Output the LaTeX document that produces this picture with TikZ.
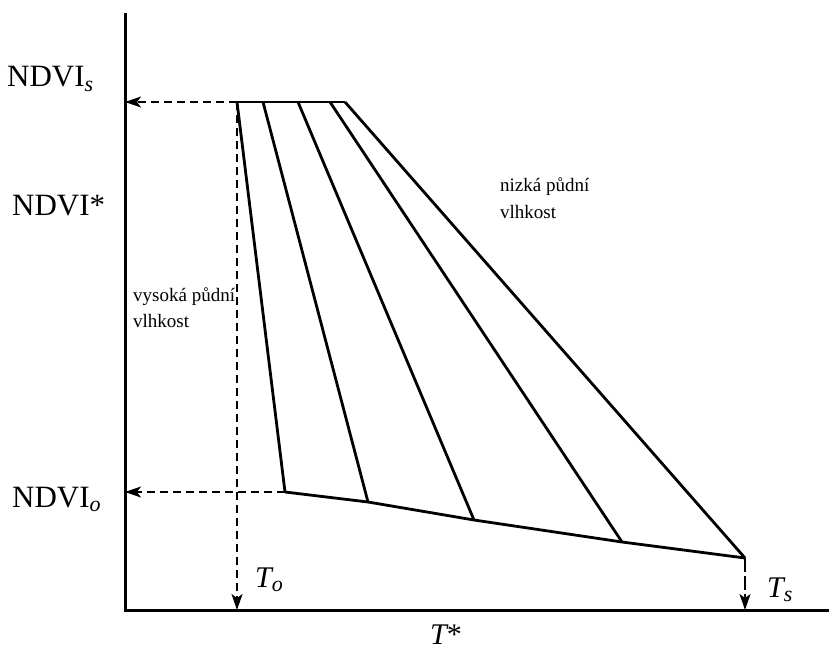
\documentclass[tikz,border=0pt]{standalone}
\usepackage{fontspec}
\setmainfont{Liberation Serif}
\usetikzlibrary{arrows.meta}

\newcommand{\lowidx}[1]{\raisebox{-0.32ex}{\fontsize{22}{24}\selectfont\itshape #1}}

\tikzset{
  axis/.style={line width=3pt, line cap=rect},
  edge/.style={line width=2.8pt, line join=miter},
  proj/.style={dashed, dash pattern=on 8pt off 5pt, line width=1.6pt, -{Stealth[length=16pt, width=11pt, inset=4pt]}},
  biglabel/.style={inner sep=0pt, font=\fontsize{31}{33}\selectfont},
  tlabel/.style={inner sep=0pt, font=\fontsize{30}{32}\selectfont\itshape},
  note/.style={inner sep=0pt, align=left, font=\fontsize{19}{26}\selectfont}
}

\begin{document}
\begin{tikzpicture}[x=1pt,y=-1pt]
  \path[use as bounding box] (0,0) rectangle (829,655);

  % axes
  \coordinate (top) at (125,15);
  \coordinate (orig) at (125,610);
  \coordinate (right) at (829,610);
  \draw[axis] (top) -- (orig) -- (right);

  % upper edge and lower edge
  \coordinate (a0) at (237,102);
  \coordinate (a1) at (263,102);
  \coordinate (a2) at (298,102);
  \coordinate (a3) at (330,102);
  \coordinate (a4) at (345,102);
  \coordinate (b0) at (285,492);
  \coordinate (b1) at (368,502);
  \coordinate (b2) at (474,520);
  \coordinate (b3) at (622,542);
  \coordinate (b4) at (745,558);

  \draw[edge] (a0) -- (a4);
  \draw[edge] (b0) -- (b1) -- (b2) -- (b3) -- (b4);
  \foreach \i in {0,...,4}{
    \draw[edge] (a\i) -- (b\i);
  }

  % projections onto the axes
  \coordinate (ys) at (125,102);
  \coordinate (yo) at (125,492);
  \coordinate (xo) at (237,610);
  \coordinate (xs) at (745,610);
  \draw[proj] (a0) -- (ys);
  \draw[proj] (b0) -- (yo);
  \draw[proj] (a0) -- (xo);
  \draw[proj, dash pattern=on 14pt off 4pt] (b4) -- (xs);

  % labels
  \node[biglabel, anchor=base west] (ndvis) at (7,87) {NDVI\lowidx{s}};
  \node[biglabel, anchor=base west] (ndvistar) at (12,215) {NDVI*};
  \node[biglabel, anchor=base west] (ndvio) at (12,507) {NDVI\lowidx{o}};
  \node[tlabel, anchor=base west] (to) at (255,587) {T\lowidx{o}};
  \node[tlabel, anchor=base west] (ts) at (767,597) {T\lowidx{s}};
  \node[tlabel, anchor=base] (tstar) at (446,644) {T\upshape*};

  \node[note, anchor=base west] (wet) at (133,327) {vysoká půdní\\vlhkost};
  \node[note, anchor=base west] (dry) at (500,218) {nizká půdní\\vlhkost};
\end{tikzpicture}
\end{document}
